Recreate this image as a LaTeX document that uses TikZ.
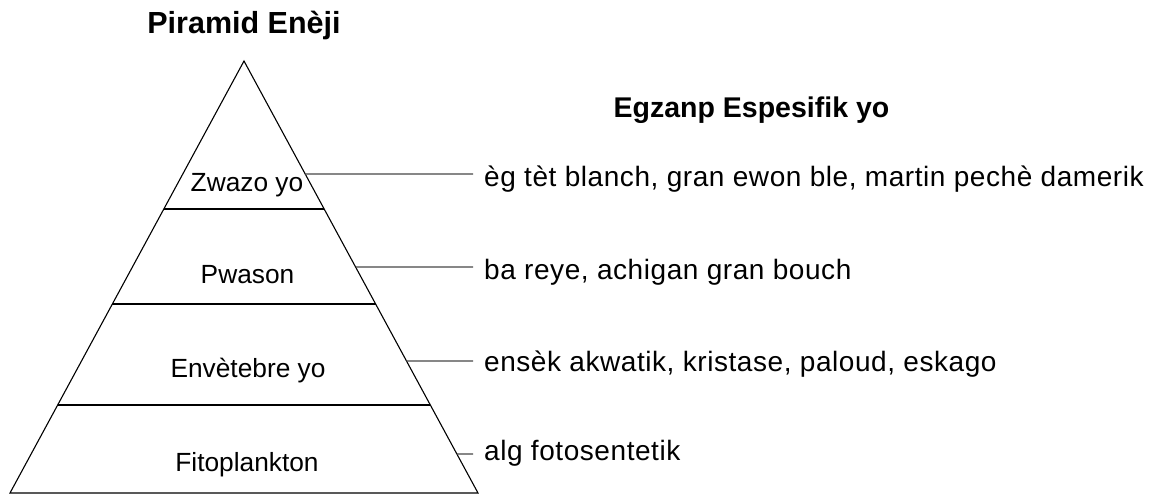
\documentclass[tikz,border=0pt]{standalone}
\usepackage{fontspec}
\setmainfont{Liberation Sans}
\newfontfamily\widefont[LetterSpace=2]{Liberation Sans}
\usetikzlibrary{calc}
\tikzset{
  edge/.style={line width=1.1pt, black},
  conn/.style={line width=1.4pt, black!72},
  level/.style={inner sep=0pt, anchor=base, font=\fontsize{26.3}{30}\selectfont},
  example/.style={inner sep=0pt, anchor=base west, font=\widefont\fontsize{28}{32}\selectfont},
  heading/.style={inner sep=0pt, anchor=base, font=\bfseries\fontsize{30.5}{36}\selectfont},
  subheading/.style={inner sep=0pt, anchor=base, font=\bfseries\fontsize{28.5}{34}\selectfont}
}
\begin{document}
\begin{tikzpicture}[x=1pt,y=-1pt]
\useasboundingbox (0,0) rectangle (1158,495);
% pyramid corners
\coordinate (apex) at (244,61);
\coordinate (bl) at (10,493);
\coordinate (br) at (478,493);
\draw[edge, line join=miter] (apex) -- (bl) -- (br) -- cycle;
% dividers
\foreach \t/\n in {0.3426/a,0.5625/b,0.7963/c}{
  \coordinate (dl\n) at ($(apex)!\t!(bl)$);
  \coordinate (dr\n) at ($(apex)!\t!(br)$);
  \draw[edge] (dl\n) -- (dr\n);
}
% titles
\node[heading] (title) at (244,33.3) {Piramid Enèji};
\node[subheading] (sub) at (751.5,117.7) {Egzanp Espesifik yo};
% level labels
\node[level] (l1) at (247,191) {Zwazo yo};
\node[level] (l2) at (247.5,283.3) {Pwason};
\node[level] (l3) at (248,377.7) {Envètebre yo};
\node[level] (l4) at (247,471.7) {Fitoplankton};
% examples
\node[example] (x1) at (484,186.7) {èg tèt blanch, gran ewon ble, martin pechè damerik};
\node[example] (x2) at (484,279.3) {ba reye, achigan gran bouch};
\node[example] (x3) at (484,371.7) {ensèk akwatik, kristase, paloud, eskago};
\node[example] (x4) at (484,460.7) {alg fotosentetik};
% connectors
\coordinate (s1) at ($(apex)!0.2616!(br)$);
\coordinate (s2) at ($(apex)!0.4769!(br)$);
\coordinate (s3) at ($(apex)!0.6944!(br)$);
\coordinate (s4) at ($(apex)!0.9097!(br)$);
\coordinate (e1) at (473,174);
\coordinate (e2) at (473,267);
\coordinate (e3) at (473,361);
\coordinate (e4) at (473,454);
\draw[conn] (s1) -- (e1);
\draw[conn] (s2) -- (e2);
\draw[conn] (s3) -- (e3);
\draw[conn] (s4) -- (e4);
\end{tikzpicture}
\end{document}
